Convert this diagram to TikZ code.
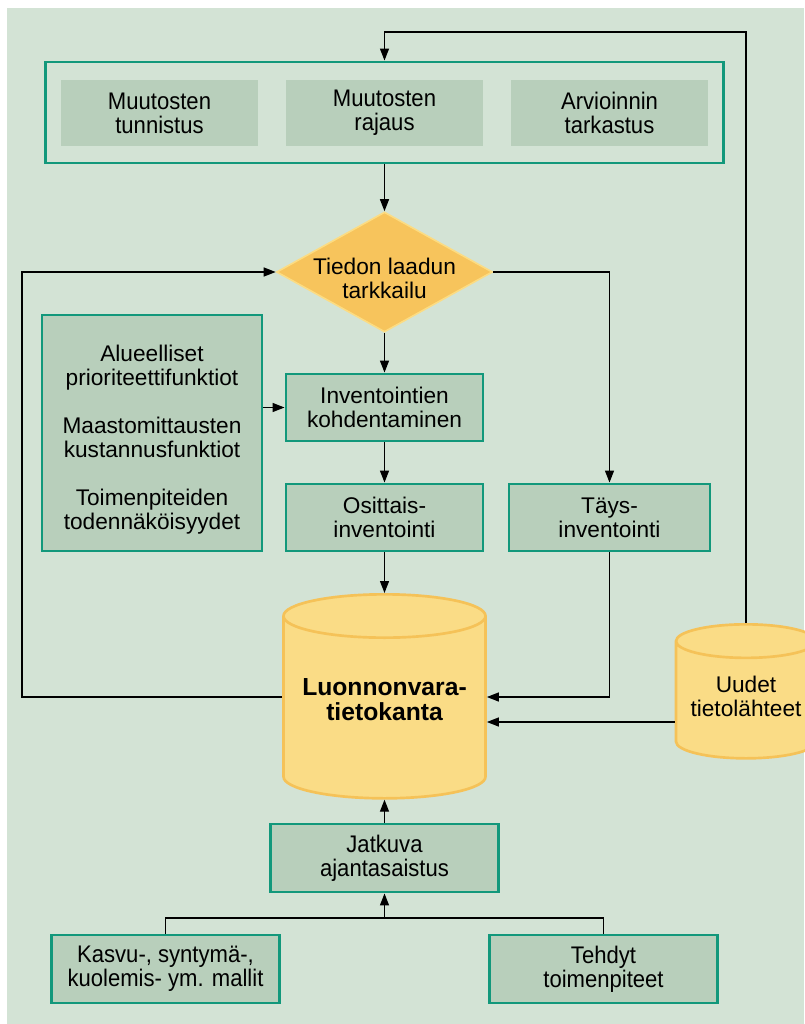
\documentclass[tikz,border=0pt]{standalone}
\usepackage{fontspec}
\setmainfont{Liberation Sans}
\newfontfamily\narrowfont[FakeStretch=0.92]{Liberation Sans}
\usetikzlibrary{arrows.meta,shapes.geometric,positioning}
\definecolor{bggreen}{RGB}{211,227,213}
\definecolor{boxgreen}{RGB}{184,207,187}
\definecolor{tealline}{RGB}{18,152,123}
\definecolor{diafill}{RGB}{247,196,92}
\definecolor{diaedge}{RGB}{252,220,130}
\definecolor{cylfill}{RGB}{250,220,134}
\definecolor{cyledge}{RGB}{245,194,88}
\newcommand{\regtxt}{\fontsize{17}{18}\selectfont}
\newcommand{\nartxt}{\narrowfont\fontsize{18}{18}\selectfont}
\newcommand{\lowstrut}[1]{\rule[-#1]{0pt}{#1}}
\newcommand{\highstrut}[1]{\rule{0pt}{#1}}
\begin{document}
\begin{tikzpicture}[x=0.75pt,y=-0.75pt,line width=1pt,>={Triangle[length=9pt,width=6.75pt]},
  panel/.style={draw=tealline,line width=2.2pt,minimum width=509pt,minimum height=75.75pt},
  inbox/.style={fill=boxgreen,align=center,font=\nartxt,minimum width=147.75pt,minimum height=49.5pt},
  box/.style={draw=tealline,line width=2.2pt,fill=boxgreen,align=center,font=\regtxt,minimum width=147.75pt,minimum height=50.25pt},
  nbox/.style={box,font=\nartxt,minimum width=170.5pt,minimum height=51pt},
  check/.style={diamond,aspect=1.8,inner sep=0pt,draw=diaedge,line width=1.2pt,fill=diafill,minimum width=162pt,minimum height=90pt},
  store/.style={cylinder,shape border rotate=90,draw=cyledge,line width=2pt,fill=cylfill,align=center,anchor=north}]
%background and page size
\useasboundingbox (0,0) rectangle (804,1024);
\fill[bggreen] (7,8) rectangle (804,1024);
%top panel with three steps
\node[panel] (chg) at (384.5,112.5) {};
\node[inbox] (tunn) at (159.5,113) {Muutosten\\tunnistus};
\node[inbox] (raj) at (384.5,113) {Muutosten\\rajaus};
\node[inbox] (tark) at (609.5,113) {Arvioinnin\\tarkastus};
%quality check
\node[check,label={[align=center,font=\regtxt,yshift=-5pt]center:Tiedon laadun\\tarkkailu}] (tq) at (384.5,272) {};
%inventories
\node[box,minimum width=165pt,minimum height=177pt] (prior) at (152,433) {\highstrut{22pt}Alueelliset\\prioriteettifunktiot\\[18pt]Maastomittausten\\kustannusfunktiot\\[18pt]Toimenpiteiden\\todennäköisyydet};
\node[box] (inv) at (384.5,407.5) {Inventointien\\kohdentaminen};
\node[box] (osit) at (384.5,517.5) {Osittais-\\inventointi};
\node[box,minimum width=150.75pt] (tays) at (609.5,517.5) {Täys-\\inventointi};
%databases
\node[store,aspect=0.25,minimum width=151.5pt,minimum height=153pt,font=\bfseries\fontsize{18.5}{19}\selectfont] (db) at (384.5,593) {Luonnonvara-\\tietokanta\lowstrut{17pt}};
\node[store,aspect=0.28,minimum width=105pt,minimum height=100.5pt,font=\regtxt] (uudet) at (746,623) {Uudet\\tietolähteet\lowstrut{10pt}};
%updating
\node[nbox] (jatk) at (384.5,858) {Jatkuva\\ajantasaistus};
\node[nbox] (kasvu) at (165.5,969) {Kasvu-, syntymä-,\\kuolemis- ym. mallit};
\node[nbox] (tehdyt) at (603.5,969) {Tehdyt\\toimenpiteet};
%connectors
\coordinate (topy) at (0,32);
\coordinate (lft) at (22,0);
\coordinate (join) at (384.5,918);
\coordinate (dbin) at (0,697);
\coordinate (uin) at (0,722);
\draw[->] (uudet.north) -- (uudet.north |- topy) -| (chg.north);
\draw[->] (chg.south) -- (tq.north);
\draw[->] (tq.east) -| (tays.north);
\draw[->] (tq.south) -- (inv.north);
\draw[->] (prior.east |- inv.west) -- (inv.west);
\draw[->] (inv.south) -- (osit.north);
\draw[->] (osit.south) -- (db.north);
\draw[->] (tays.south) |- (db.east |- dbin);
\draw[->] (uudet.west |- uin) -- (db.east |- uin);
\draw[->] (db.west |- dbin) -- (lft |- dbin) |- (tq.west);
\draw[->] (jatk.north) -- (db.south);
\draw (kasvu.north) |- (join) -| (tehdyt.north);
\draw[->] (join) -- (jatk.south);
\end{tikzpicture}
\end{document}
